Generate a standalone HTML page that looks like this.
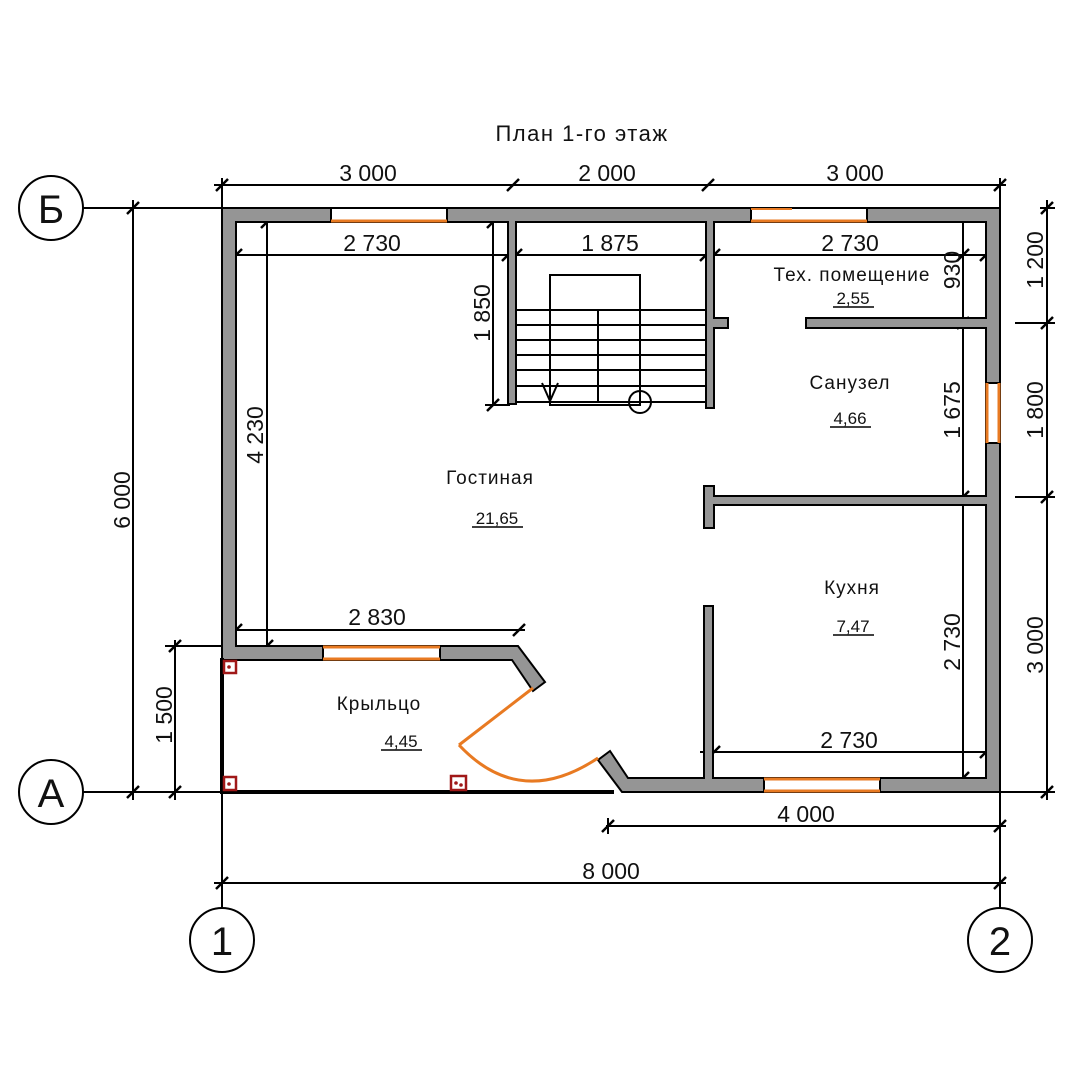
<!DOCTYPE html>
<html><head><meta charset="utf-8"><style>
html,body{margin:0;padding:0;background:#fff}
svg{display:block}
text{font-family:"Liberation Sans","DejaVu Sans",sans-serif;fill:#111}
</style></head><body>
<svg width="1080" height="1080" viewBox="0 0 1080 1080" xmlns="http://www.w3.org/2000/svg">
<defs>
<g id="tk"><line x1="-6" y1="6" x2="6" y2="-6" stroke="#000" stroke-width="2.5"/></g>
</defs>
<rect width="1080" height="1080" fill="#fff"/>
<!-- title -->
<text x="582" y="141" font-size="22" text-anchor="middle" letter-spacing="1.5">План 1-го этаж</text>

<g stroke="#000" stroke-width="2" fill="none">
<!-- top dimension -->
<line x1="214" y1="185" x2="1006" y2="185"/>
<line x1="222" y1="178" x2="222" y2="208"/>
<line x1="1000" y1="178" x2="1000" y2="208"/>
<!-- left dims -->
<line x1="83" y1="208" x2="222" y2="208"/>
<line x1="83" y1="792" x2="222" y2="792"/>
<line x1="133" y1="200" x2="133" y2="800"/>
<line x1="175" y1="640" x2="175" y2="800"/>
<line x1="165" y1="646" x2="222" y2="646"/>
<!-- axis 1 & 2 -->
<line x1="222" y1="792" x2="222" y2="908"/>
<line x1="1000" y1="792" x2="1000" y2="908"/>
<line x1="214" y1="883" x2="1006" y2="883"/>
<line x1="606" y1="826" x2="1006" y2="826"/>
<line x1="608" y1="818" x2="608" y2="834"/>
<!-- right dims -->
<line x1="1047" y1="200" x2="1047" y2="800"/>
<line x1="1000" y1="792" x2="1055" y2="792"/>
<line x1="1015" y1="323" x2="1055" y2="323"/>
<line x1="1015" y1="497" x2="1055" y2="497"/>
<line x1="1040" y1="208" x2="1055" y2="208"/>
<line x1="963" y1="222" x2="963" y2="778"/>
<!-- inner dims -->
<line x1="230" y1="255" x2="994" y2="255"/>
<line x1="493" y1="222" x2="493" y2="405"/>
<line x1="485" y1="405" x2="510" y2="405"/>
<line x1="267" y1="222" x2="267" y2="646"/>
<line x1="230" y1="630" x2="525" y2="630"/>
<line x1="700" y1="752" x2="992" y2="752"/>
</g>
<!-- ticks -->
<g>
<use href="#tk" x="222" y="185"/><use href="#tk" x="513" y="185"/><use href="#tk" x="708" y="185"/><use href="#tk" x="1000" y="185"/>
<use href="#tk" x="133" y="208"/><use href="#tk" x="133" y="792"/><use href="#tk" x="175" y="646"/><use href="#tk" x="175" y="792"/>
<use href="#tk" x="222" y="883"/><use href="#tk" x="1000" y="883"/><use href="#tk" x="608" y="826"/><use href="#tk" x="1000" y="826"/>
<use href="#tk" x="1047" y="208"/><use href="#tk" x="1047" y="323"/><use href="#tk" x="1047" y="497"/><use href="#tk" x="1047" y="792"/>
<use href="#tk" x="963" y="255"/><use href="#tk" x="963" y="323"/><use href="#tk" x="963" y="497"/><use href="#tk" x="963" y="778"/>
<use href="#tk" x="236" y="255"/><use href="#tk" x="508" y="255"/><use href="#tk" x="516" y="255"/><use href="#tk" x="706" y="255"/><use href="#tk" x="714" y="255"/><use href="#tk" x="986" y="255"/>
<use href="#tk" x="493" y="222"/><use href="#tk" x="493" y="405"/>
<use href="#tk" x="267" y="222"/><use href="#tk" x="267" y="646"/>
<use href="#tk" x="236" y="630"/><use href="#tk" x="519" y="630"/>
<use href="#tk" x="714" y="752"/><use href="#tk" x="986" y="752"/>
</g>

<!-- walls -->
<g fill="#959595" stroke="#000" stroke-width="2" stroke-linejoin="miter">
<!-- outer main: top + left + porch top -->
<path d="M222,208 H1000 V792 H622 L598,760 L610,751 L628,778 H986 V222 H236 V646 H518 L545,682 L533,691 L512,660 H236 H222 Z"/>
<!-- stair walls -->
<rect x="508" y="222" width="8" height="182"/>
<path d="M706,222 H714 V318 H728 V328 H714 V408 H706 Z"/>
<rect x="806" y="318" width="180" height="10"/>
<path d="M704,486 H714 V496 H986 V505 H714 V528 H704 Z"/>
<rect x="704" y="606" width="9" height="172"/>
</g>
<!-- fix interior joins -->
<g fill="#959595">
<rect x="509" y="220" width="6" height="4"/><rect x="707" y="220" width="6" height="4"/>
<rect x="984" y="319" width="4" height="8"/><rect x="984" y="497" width="4" height="7"/>
<rect x="705" y="776" width="7" height="4"/>
</g>
<!-- windows -->
<g stroke-width="2">
<rect x="331" y="209" width="116" height="12" fill="#fff" stroke="none"/>
<line x1="331" y1="208" x2="331" y2="222" stroke="#000"/><line x1="447" y1="208" x2="447" y2="222" stroke="#000"/>
<line x1="331" y1="221" x2="447" y2="221" stroke="#e87a22" stroke-width="3"/>
<rect x="751" y="209" width="116" height="12" fill="#fff" stroke="none"/>
<line x1="751" y1="208" x2="751" y2="222" stroke="#000"/><line x1="867" y1="208" x2="867" y2="222" stroke="#000"/>
<line x1="751" y1="221" x2="867" y2="221" stroke="#e87a22" stroke-width="3"/>
<line x1="751" y1="209" x2="792" y2="209" stroke="#e87a22" stroke-width="2"/>
<rect x="323" y="647" width="117" height="12" fill="#fff" stroke="none"/>
<line x1="323" y1="646" x2="323" y2="660" stroke="#000"/><line x1="440" y1="646" x2="440" y2="660" stroke="#000"/>
<line x1="323" y1="647" x2="440" y2="647" stroke="#e87a22" stroke-width="3"/>
<line x1="323" y1="659" x2="440" y2="659" stroke="#e87a22" stroke-width="3"/>
<rect x="764" y="779" width="116" height="12" fill="#fff" stroke="none"/>
<line x1="764" y1="778" x2="764" y2="792" stroke="#000"/><line x1="880" y1="778" x2="880" y2="792" stroke="#000"/>
<line x1="764" y1="779" x2="880" y2="779" stroke="#e87a22" stroke-width="3"/>
<line x1="764" y1="791" x2="880" y2="791" stroke="#e87a22" stroke-width="3"/>
<rect x="987" y="384" width="12" height="58" fill="#fff" stroke="none"/>
<line x1="986" y1="383" x2="1000" y2="383" stroke="#000"/><line x1="986" y1="443" x2="1000" y2="443" stroke="#000"/>
<line x1="987" y1="383" x2="987" y2="443" stroke="#e87a22" stroke-width="3"/>
<line x1="999" y1="383" x2="999" y2="443" stroke="#e87a22" stroke-width="3"/>
</g>
<!-- porch lines -->
<g stroke="#000" stroke-width="4">
<line x1="222" y1="658" x2="222" y2="794"/>
<line x1="222" y1="792" x2="614" y2="792"/>
</g>
<!-- door -->
<g stroke="#e87a22" stroke-width="3" fill="none">
<line x1="533" y1="688" x2="459" y2="745"/>
<path d="M459,745 Q520,810 598,758"/>
</g>
<!-- columns -->
<g fill="none" stroke="#a01818" stroke-width="2.5">
<rect x="224" y="661" width="12" height="12"/>
<rect x="224" y="777" width="12" height="13"/>
<rect x="451" y="776" width="15" height="14"/>
</g>
<g fill="#a01818"><circle cx="229" cy="667" r="1.8"/><circle cx="229" cy="784" r="1.8"/><circle cx="456" cy="783" r="1.8"/><circle cx="461" cy="785" r="1.8"/></g>

<!-- stairs -->
<g stroke="#000" stroke-width="2" fill="none">
<rect x="550" y="275" width="90" height="130"/>
<line x1="516" y1="310" x2="706" y2="310"/>
<line x1="516" y1="325" x2="706" y2="325"/>
<line x1="516" y1="340" x2="706" y2="340"/>
<line x1="516" y1="355" x2="706" y2="355"/>
<line x1="516" y1="370" x2="706" y2="370"/>
<line x1="516" y1="386" x2="706" y2="386"/>
<line x1="516" y1="402" x2="706" y2="402"/>
<line x1="598" y1="310" x2="598" y2="402"/>
<polyline points="542,383 550,401 558,383"/>
<circle cx="640" cy="402" r="11"/>
</g>

<!-- axis circles -->
<g stroke="#000" stroke-width="2" fill="#fff">
<circle cx="51" cy="208" r="32"/>
<circle cx="51" cy="792" r="32"/>
<circle cx="222" cy="940" r="32"/>
<circle cx="1000" cy="940" r="32"/>
</g>
<g font-size="40" text-anchor="middle">
<text x="51" y="223">Б</text>
<text x="51" y="807">А</text>
<text x="222" y="955">1</text>
<text x="1000" y="955">2</text>
</g>

<!-- dimension labels -->
<g font-size="23" text-anchor="middle">
<text x="368" y="181">3 000</text>
<text x="607" y="181">2 000</text>
<text x="855" y="181">3 000</text>
<text x="372" y="251">2 730</text>
<text x="610" y="251">1 875</text>
<text x="850" y="251">2 730</text>
<text x="377" y="625">2 830</text>
<text x="849" y="748">2 730</text>
<text x="806" y="822">4 000</text>
<text x="611" y="879">8 000</text>
<text transform="translate(490,313) rotate(-90)">1 850</text>
<text transform="translate(263,435) rotate(-90)">4 230</text>
<text transform="translate(130,500) rotate(-90)">6 000</text>
<text transform="translate(172,715) rotate(-90)">1 500</text>
<text transform="translate(960,270) rotate(-90)">930</text>
<text transform="translate(960,410) rotate(-90)">1 675</text>
<text transform="translate(960,642) rotate(-90)">2 730</text>
<text transform="translate(1043,260) rotate(-90)">1 200</text>
<text transform="translate(1043,410) rotate(-90)">1 800</text>
<text transform="translate(1043,645) rotate(-90)">3 000</text>
</g>

<!-- room labels -->
<g font-size="19" text-anchor="middle" letter-spacing="1">
<text x="490" y="484">Гостиная</text>
<text x="852" y="281">Тех. помещение</text>
<text x="850" y="389">Санузел</text>
<text x="852" y="594">Кухня</text>
<text x="379" y="710">Крыльцо</text>
</g>
<g font-size="17" text-anchor="middle">
<text x="497" y="524">21,65</text>
<text x="853" y="304">2,55</text>
<text x="850" y="424">4,66</text>
<text x="853" y="632">7,47</text>
<text x="401" y="747">4,45</text>
</g>
<g stroke="#000" stroke-width="1.5">
<line x1="472" y1="527" x2="523" y2="527"/>
<line x1="833" y1="307" x2="874" y2="307"/>
<line x1="830" y1="427" x2="871" y2="427"/>
<line x1="833" y1="635" x2="874" y2="635"/>
<line x1="381" y1="750" x2="422" y2="750"/>
</g>
</svg>
</body></html>
